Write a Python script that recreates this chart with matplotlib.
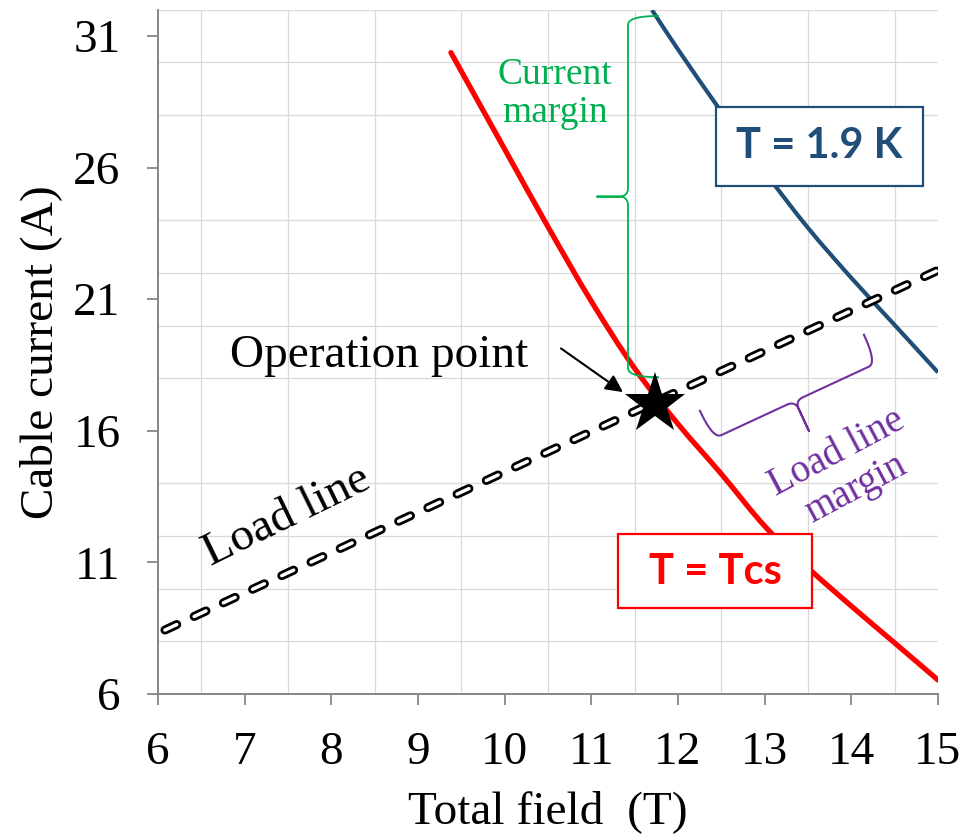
import numpy as np
import matplotlib
matplotlib.use("Agg")
import matplotlib.pyplot as plt
from matplotlib.patches import Rectangle, PathPatch
from matplotlib.path import Path

plt.rcParams['font.family'] = ['Liberation Serif', 'DejaVu Serif']
plt.rcParams['lines.scale_dashes'] = False

# Critical surface at the current-sharing temperature
tcs_field = [9.38, 10.0, 10.5, 11.0, 11.5, 12.0, 12.5, 13.0, 13.5, 14.0, 14.5, 15.0]
tcs_current = [30.37, 26.70, 23.75, 20.92, 18.37, 16.26, 14.36, 12.38, 10.79, 9.34, 7.94, 6.53]

# Critical surface at 1.9 K
k19_field = [11.70, 12.0, 12.5, 13.0, 13.5, 14.0, 14.5, 15.0]
k19_current = [31.99, 30.49, 28.12, 25.84, 23.71, 21.81, 20.02, 18.22]

# Magnet load line
load_field = [6.08, 15.0]
load_current = [8.43, 22.1]

# Operation point
op_field = 11.73
op_current = 17.03

x_ticks = [6, 7, 8, 9, 10, 11, 12, 13, 14, 15]
y_ticks = [6, 11, 16, 21, 26, 31]

RED = '#FF0000'
BLUE = '#1F4E79'
GREEN = '#00B050'
PURPLE = '#7030A0'
AXGRAY = '#868686'

fig = plt.figure(figsize=(9.69, 8.35), dpi=100)
ax = fig.add_axes([158 / 969, 1 - 694 / 835, (938 - 158) / 969, (694 - 9.7) / 835])
ax.set_xlim(6, 15)
ax.set_ylim(6, 32)

# grid
ax.set_xticks(x_ticks)
ax.set_yticks(y_ticks)
ax.set_xticks(np.arange(6, 15.01, 0.5), minor=True)
ax.set_yticks(np.arange(6, 32.01, 2), minor=True)
ax.grid(which='minor', color='#d9d9d9', lw=0.9, zorder=0)
ax.grid(which='major', visible=False)
ax.tick_params(which='minor', length=0)
ax.tick_params(which='major', direction='out', length=8, width=1.3, color=AXGRAY,
               labelsize=34, pad=19)
for s in ('top', 'right'):
    ax.spines[s].set_visible(False)
for s in ('left', 'bottom'):
    ax.spines[s].set_color(AXGRAY)
    ax.spines[s].set_linewidth(1.4)
ax.set_axisbelow(True)

ax.set_xlabel('Total field  (T)', fontsize=34)
ax.xaxis.set_label_coords(0.5, -0.172)
ax.xaxis.label.set_va('center')
ax.set_ylabel('Cable current (A)', fontsize=34)
ax.yaxis.set_label_coords(-0.151, 0.5)
ax.yaxis.label.set_va('center')


def smooth_line(xs, ys, **kw):
    """Draw a smoothed (Catmull-Rom style) line through the given points."""
    p = np.column_stack([xs, ys]).astype(float)
    ext = np.vstack([p[0] - (p[1] - p[0]), p, p[-1] + (p[-1] - p[-2])])
    verts = [p[0]]
    codes = [Path.MOVETO]
    for i in range(1, len(ext) - 2):
        p0, p1, p2, p3 = ext[i - 1], ext[i], ext[i + 1], ext[i + 2]
        verts += [p1 + (p2 - p0) / 6, p2 - (p3 - p1) / 6, p2]
        codes += [Path.CURVE4] * 3
    patch = PathPatch(Path(verts, codes), facecolor='none', **kw)
    ax.add_patch(patch)


# curves
smooth_line(tcs_field, tcs_current, edgecolor=RED, lw=3.8, capstyle='round', zorder=3)
smooth_line(k19_field, k19_current, edgecolor=BLUE, lw=3.0, zorder=3)

# load line: hollow capsule dashes
dash = (0, (9.4, 13.8))
ax.plot(load_field, load_current, color='black', lw=6.5, linestyle=dash,
        dash_capstyle='round', zorder=4)
ax.plot(load_field, load_current, color='white', lw=2.5, linestyle=dash,
        dash_capstyle='round', zorder=4.1)

ax.plot([op_field], [op_current], marker='*', markersize=46, color='black',
        markeredgewidth=0, zorder=6)


def brace(p0, p1, depth, arm, r, side, color, lw):
    T = ax.transData
    a = T.transform(p0)
    b = T.transform(p1)
    t = b - a
    L = np.hypot(*t)
    t = t / L
    n = np.array([-t[1], t[0]]) * side

    def P(u, v):
        return a + u * t + v * n

    def quad(p, c, q, k=16):
        s = np.linspace(0, 1, k)[:, None]
        return (1 - s) ** 2 * p + 2 * (1 - s) * s * c + s ** 2 * q

    m = L / 2
    pts = np.vstack([
        quad(P(0, -arm), P(0, 0), P(r, 0)),
        quad(P(m - r, 0), P(m, 0), P(m, r)),
        [P(m, depth)],
        quad(P(m, r), P(m, 0), P(m + r, 0)),
        quad(P(L - r, 0), P(L, 0), P(L, -arm)),
    ])
    d = T.inverted().transform(pts)
    ax.plot(d[:, 0], d[:, 1], color=color, lw=lw, zorder=5, clip_on=False)


brace((11.423, 31.76), (11.423, 18.04), 31, 30, 9, -1, GREEN, 1.3)
brace((12.404, 15.69), (14.296, 18.58), 33, 31, 9, -1, PURPLE, 1.5)

# annotations
ax.text(6.83, 18.42, 'Operation point', fontsize=34, ha='left', va='baseline', zorder=7)
ax.annotate('', xy=(11.365, 17.47), xytext=(10.65, 19.13),
            arrowprops=dict(arrowstyle='-|>', color='black', lw=1.5,
                            mutation_scale=26, shrinkA=0, shrinkB=0), zorder=7)
ax.text(7.485, 12.73, 'Load line', fontsize=34, rotation=26, ha='center', va='center',
        rotation_mode='anchor', zorder=7)
ax.text(10.58, 28.8, 'Current\nmargin', fontsize=27, color=GREEN, ha='center',
        va='center', linespacing=1.15, zorder=7)
ax.text(13.94, 14.48, 'Load line\nmargin', fontsize=28, color=PURPLE, ha='center',
        va='center', linespacing=1.15, rotation=28, rotation_mode='anchor', zorder=7)

# labelled boxes
ax.add_patch(Rectangle((12.438, 25.31), 14.823 - 12.438, 28.31 - 25.31, facecolor='white',
                       edgecolor=BLUE, lw=1.6, zorder=8))
ax.text(13.63, 26.82, 'T = 1.9 K', fontsize=30, fontweight='bold', family='Lato',
        color=BLUE, ha='center', va='center', zorder=9)
ax.add_patch(Rectangle((11.31, 9.28), 13.55 - 11.31, 12.07 - 9.28, facecolor='white',
                       edgecolor=RED, lw=1.6, zorder=8))
ax.text(12.43, 10.62, 'T = Tcs', fontsize=30, fontweight='bold', family='Lato',
        color=RED, ha='center', va='center', zorder=9)

fig.savefig('out.png', dpi=100)
